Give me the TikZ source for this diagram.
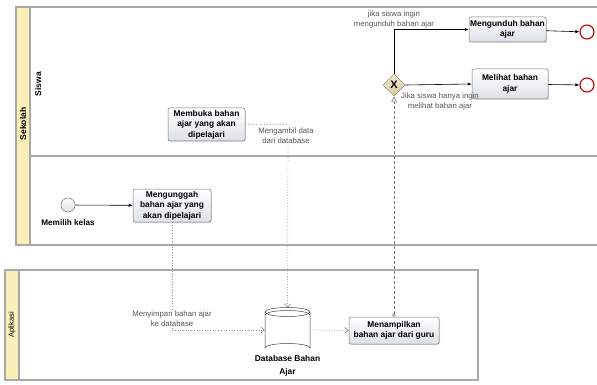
\documentclass[tikz,border=0pt]{standalone}
\usepackage{fontspec}
\setmainfont{Liberation Sans}
\usetikzlibrary{shapes.geometric,arrows.meta,shadows}
\definecolor{hdr}{HTML}{FBEFB8}
\definecolor{lanel}{HTML}{A8A8A8}
\definecolor{taskb}{HTML}{DCE1E8}
\definecolor{gwt}{HTML}{F7ECD2}
\definecolor{gwb}{HTML}{D8C69A}
\definecolor{lbl}{HTML}{555555}
\tikzset{
  lane/.style={draw=lanel,line width=1.1pt},
  hdrbox/.style={draw=lanel,line width=1.1pt,fill=hdr},
  task/.style={rectangle,rounded corners=2pt,draw=black!55,line width=0.5pt,
    top color=white,bottom color=taskb,drop shadow={opacity=0.25,shadow xshift=1pt,shadow yshift=-1pt},
    align=center,font=\fontsize{8.4}{10.4}\selectfont\bfseries,inner sep=1pt},
  gw/.style={diamond,draw=black!50,line width=0.5pt,top color=gwt,bottom color=gwb,minimum size=22pt,inner sep=0pt,font=\bfseries\fontsize{11}{11}\selectfont},
  endev/.style={circle,draw=red!75!black,line width=1.1pt,fill=white,minimum size=14pt,inner sep=0pt},
  startev/.style={circle,draw=black!45,line width=0.6pt,top color=white,bottom color=green!12!gray!25,minimum size=14pt,inner sep=0pt},
  flow/.style={-{Latex[length=4pt,width=3.2pt]},black,line width=0.6pt},
  assoc/.style={-{Straight Barb[length=3.5pt,width=6pt]},black!45,dotted,line width=0.7pt},
  msg/.style={{Circle[open,length=3.5pt]}-{Triangle[open,length=6pt,width=5.5pt]},black!55,densely dashed,line width=0.6pt},
  elabel/.style={font=\fontsize{7.8}{10}\selectfont,text=lbl,align=center,inner sep=1pt},
  plabel/.style={font=\fontsize{8.5}{9}\selectfont\bfseries,rotate=90},
}
\begin{document}
\begin{tikzpicture}[x=1pt,y=-1pt]
\useasboundingbox (0,0) rectangle (597,385);
% pool Sekolah
\draw[hdrbox] (16,7) rectangle (30,245);
\draw[lane] (30,7) -- (597,7);
\draw[lane] (30,156) -- (597,156);
\draw[lane] (16,245) -- (597,245);
\node[plabel] (psek) at (23,124) {Sekolah};
\node[plabel] (psis) at (38,84) {Siswa};
% pool Aplikasi
\draw[hdrbox] (5,270) rectangle (19,380);
\draw[lane] (19,270) -- (478,270) -- (478,380) -- (19,380);
\node[font=\fontsize{7.5}{8}\selectfont,rotate=90] (papl) at (12,325) {Aplikasi};

% nodes
\node[task,minimum width=77pt,minimum height=33pt] (membuka) at (206.5,124.5) {Membuka bahan\\ajar yang akan\\dipelajari};
\node[task,minimum width=77pt,minimum height=25pt] (unduh) at (507.5,29.5) {Mengunduh bahan\\ajar};
\node[task,minimum width=76pt,minimum height=30pt] (lihat) at (510,84) {Melihat bahan\\ajar};
\node[task,minimum width=78pt,minimum height=33pt] (unggah) at (172,205.5) {Mengunggah\\bahan ajar yang\\akan dipelajari};
\node[task,minimum width=90pt,minimum height=27pt] (tampil) at (394,330.5) {Menampilkan\\bahan ajar dari guru};
\node[gw] (gw) at (394,85) {X};
\node[endev] (end1) at (587,32) {};
\node[endev] (end2) at (587,85) {};
\node[startev] (start) at (68,205) {};
\node[font=\fontsize{8.2}{9}\selectfont\bfseries] (startl) at (68,223) {Memilih kelas};

% database cylinder
\node[minimum width=45pt,minimum height=44pt,inner sep=0pt] (db) at (287.5,330) {};
\fill[white] (265,312) -- (265,348) arc[start angle=180,end angle=360,x radius=22.5,y radius=4.5] -- (310,312) -- cycle;
\draw[black!75,line width=0.5pt] (265,312) -- (265,348) arc[start angle=180,end angle=360,x radius=22.5,y radius=4.5] -- (310,312);
\draw[black!75,line width=0.5pt,fill=white] (287.5,312) ellipse[x radius=22.5,y radius=4.5];
\draw[black!75,line width=0.5pt] (265,315) arc[start angle=180,end angle=360,x radius=22.5,y radius=4.5];
\node[font=\fontsize{8.4}{12.5}\selectfont\bfseries,align=center] (dbl) at (287.5,366) {Database Bahan\\Ajar};

% connectors
\draw[flow] (start) -- (unggah);
\draw[flow] (gw.north) |- (unduh.west);
\draw[flow] (gw.east) -- (lihat.west);
\draw[flow] (unduh) -- (end1);
\draw[flow] (lihat) -- (end2);
\draw[assoc] (unggah.south) |- (db.west);
\node[elabel,fill=white] (l1) at (172,319) {Menyimpan bahan ajar\\ke database};
\coordinate (c1) at (288,124.5);
\draw[assoc] (membuka.east) -- (c1) -- (db.north);
\node[elabel,fill=white] (l2) at (286,136) {Mengambil data\\dari database};
\draw[assoc] (db.east) -- (tampil.west);
\draw[msg] (tampil.north) -- (gw.south);
\node[elabel] (l3) at (394,19.5) {jika siswa ingin\\mengunduh bahan ajar};
\node[elabel] (l4) at (440,101) {Jika siswa hanya ingin\\melihat bahan ajar};
\end{tikzpicture}
\end{document}
